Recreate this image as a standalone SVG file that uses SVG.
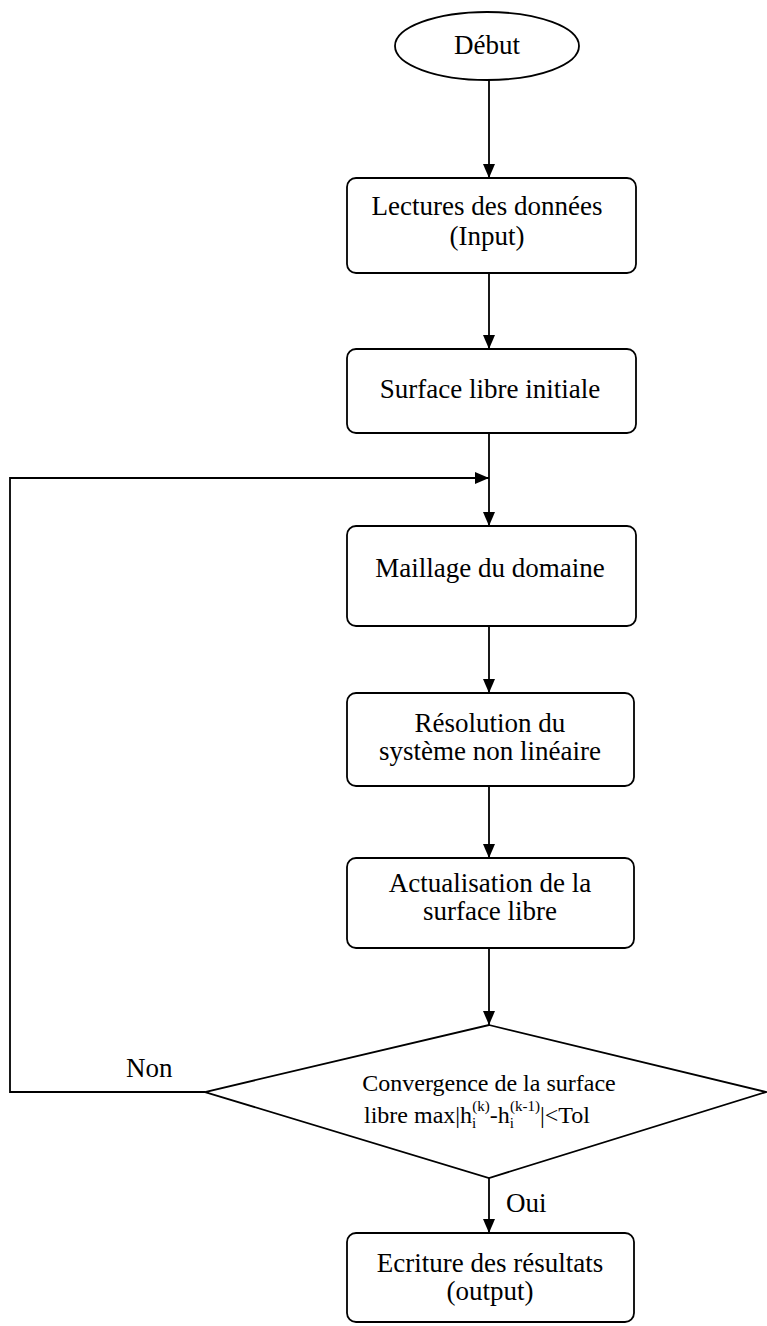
<svg xmlns="http://www.w3.org/2000/svg" width="767" height="1326" viewBox="0 0 767 1326">
<style>
.box{fill:#fff;stroke:#000;stroke-width:1.8}
.ln{fill:none;stroke:#000;stroke-width:1.8}
text{font-family:"Liberation Serif","Times New Roman",serif;fill:#000;font-size:27px}
.t{text-anchor:middle}
.d{font-size:24px}
</style>
<defs>
<marker id="ah" viewBox="0 0 14 12" refX="14" refY="6" markerWidth="14" markerHeight="12" markerUnits="userSpaceOnUse" orient="auto">
<path d="M0,0 L14,6 L0,12 Z" fill="#000"/>
</marker>
</defs>
<rect width="767" height="1326" fill="#fff"/>
<g id="connectors">
<line class="ln" x1="489" y1="80" x2="489" y2="178" marker-end="url(#ah)"/>
<line class="ln" x1="489" y1="273" x2="489" y2="349" marker-end="url(#ah)"/>
<line class="ln" x1="489" y1="433" x2="489" y2="526" marker-end="url(#ah)"/>
<line class="ln" x1="489" y1="626" x2="489" y2="693" marker-end="url(#ah)"/>
<line class="ln" x1="489" y1="786" x2="489" y2="858" marker-end="url(#ah)"/>
<line class="ln" x1="489" y1="948" x2="489" y2="1025" marker-end="url(#ah)"/>
<line class="ln" x1="489" y1="1178" x2="489" y2="1233" marker-end="url(#ah)"/>
<polyline class="ln" points="205,1092 10,1092 10,478 489,478" marker-end="url(#ah)"/>
<text x="126" y="1077">Non</text>
<text x="506" y="1212">Oui</text>
</g>
<g id="debut">
<ellipse class="box" cx="487" cy="46" rx="92" ry="34"/>
<text class="t" x="487" y="54">Début</text>
</g>
<g id="lectures">
<rect class="box" x="347" y="178" width="289" height="95" rx="9"/>
<text class="t" x="487" y="215">Lectures des données</text>
<text class="t" x="487" y="245">(Input)</text>
</g>
<g id="surface-initiale">
<rect class="box" x="347" y="349" width="289" height="84" rx="9"/>
<text class="t" x="490" y="398">Surface libre initiale</text>
</g>
<g id="maillage">
<rect class="box" x="347" y="526" width="289" height="100" rx="9"/>
<text class="t" x="490" y="577">Maillage du domaine</text>
</g>
<g id="resolution">
<rect class="box" x="347" y="693" width="287" height="93" rx="9"/>
<text class="t" x="490" y="732">Résolution du</text>
<text class="t" x="490" y="760">système non linéaire</text>
</g>
<g id="actualisation">
<rect class="box" x="347" y="858" width="287" height="90" rx="9"/>
<text class="t" x="490" y="892">Actualisation de la</text>
<text class="t" x="490" y="920">surface libre</text>
</g>
<g id="convergence">
<polygon class="box" points="489,1025 766,1092 489,1178 205,1092"/>
<text class="t d" x="489" y="1091">Convergence de la surface</text>
<text class="d" x="364" y="1123">libre max|h<tspan dy="5" font-size="15">i</tspan><tspan dx="-4" dy="-17" font-size="15">(k)</tspan><tspan dy="12">-h</tspan><tspan dy="5" font-size="15">i</tspan><tspan dx="-4" dy="-17" font-size="15">(k-1)</tspan><tspan dy="12">|&lt;Tol</tspan></text>
</g>
<g id="ecriture">
<rect class="box" x="347" y="1233" width="287" height="89" rx="9"/>
<text class="t" x="490" y="1272">Ecriture des résultats</text>
<text class="t" x="490" y="1300">(output)</text>
</g>
</svg>
